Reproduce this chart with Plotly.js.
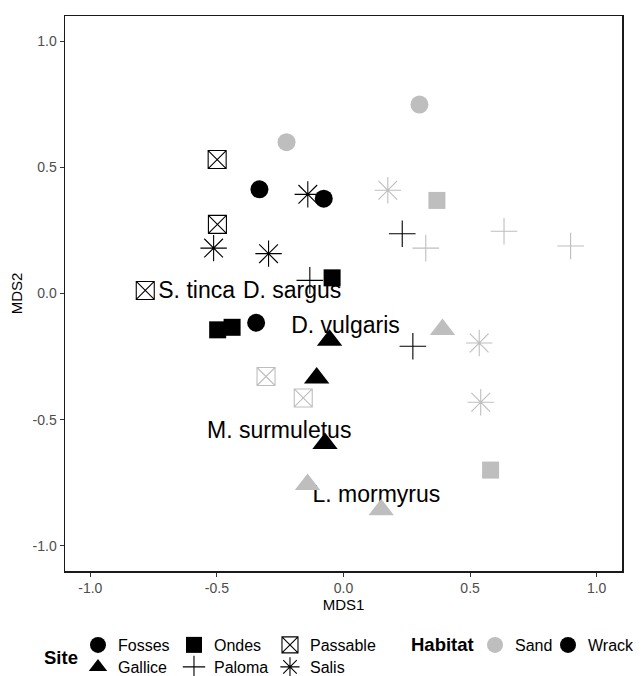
<!DOCTYPE html>
<html>
<head>
<meta charset="utf-8">
<script src="https://cdn.plot.ly/plotly-3.0.1.min.js"></script>
<style>html,body{margin:0;padding:0;background:#fff;}</style>
</head>
<body>
<div id="chart" style="width:642px;height:676px;"></div>
<script>
// ---- data ----
const site = [
  "Fosses","Fosses","Fosses","Fosses","Fosses",
  "Ondes","Ondes","Ondes","Ondes","Ondes",
  "Passable","Passable","Passable","Passable","Passable",
  "Gallice","Gallice","Gallice","Gallice","Gallice","Gallice",
  "Paloma","Paloma","Paloma","Paloma","Paloma","Paloma",
  "Salis","Salis","Salis","Salis","Salis","Salis"
];
const habitat = [
  "Sand","Sand","Wrack","Wrack","Wrack",
  "Wrack","Wrack","Wrack","Sand","Sand",
  "Wrack","Wrack","Wrack","Sand","Sand",
  "Wrack","Wrack","Wrack","Sand","Sand","Sand",
  "Wrack","Wrack","Wrack","Sand","Sand","Sand",
  "Wrack","Wrack","Wrack","Sand","Sand","Sand"
];
const mds1 = [
  0.300,-0.225,-0.332,-0.078,-0.345,
  -0.045,-0.497,-0.440,0.369,0.581,
  -0.499,-0.498,-0.783,-0.306,-0.159,
  -0.055,-0.106,-0.073,0.391,-0.142,0.149,
  -0.133,0.232,0.274,0.325,0.634,0.897,
  -0.141,-0.513,-0.296,0.175,0.536,0.542
];
const mds2 = [
  0.749,0.600,0.413,0.376,-0.116,
  0.062,-0.144,-0.134,0.369,-0.700,
  0.531,0.274,0.012,-0.329,-0.414,
  -0.185,-0.335,-0.595,-0.143,-0.757,-0.857,
  0.052,0.237,-0.209,0.180,0.247,0.188,
  0.393,0.180,0.158,0.409,-0.196,-0.431
];
const speciesNames = ["S. tinca","D. sargus","D. vulgaris","M. surmuletus","L. mormyrus"];
const speciesX = [-0.580,-0.203,0.008,-0.254,0.130];
const speciesY = [0.004,0.004,-0.135,-0.550,-0.802];

const siteLevels = ["Fosses","Ondes","Passable","Gallice","Paloma","Salis"];
const habitatLevels = ["Sand","Wrack"];
const tickVals = [-1.0,-0.5,0.0,0.5,1.0];
const tickText = ["-1.0","-0.5","0.0","0.5","1.0"];

// ---- styles ----
const FONT = "Liberation Sans, Arial, sans-serif";
const siteSymbol = {Fosses:"circle", Ondes:"square", Passable:"square-x-open",
  Gallice:"triangle-up", Paloma:"cross-thin-open", Salis:"asterisk-open"};
const siteSize = {Fosses:18, Ondes:17, Passable:18, Gallice:22, Paloma:19, Salis:22};
const habColor = {Sand:"#BEBEBE", Wrack:"#000000"};

const traces = [];
// species labels (drawn under points)
traces.push({
  type:"scatter", mode:"text", x:speciesX, y:speciesY, text:speciesNames,
  textposition:"middle center", textfont:{family:FONT, size:23, color:"#000"},
  showlegend:false, hoverinfo:"skip"
});
// points
habitatLevels.forEach(h => {
  siteLevels.forEach(s => {
    const xs = [], ys = [];
    for (let i = 0; i < site.length; i++) {
      if (site[i] === s && habitat[i] === h) { xs.push(mds1[i]); ys.push(mds2[i]); }
    }
    if (!xs.length) return;
    traces.push({
      type:"scatter", mode:"markers", x:xs, y:ys, showlegend:false, hoverinfo:"skip",
      marker:{symbol:siteSymbol[s], size:siteSize[s], color:habColor[h],
        line:{width: siteSymbol[s].endsWith("open") ? 1.1 : 0, color:habColor[h]}}
    });
  });
});
// legend entries (no data)
siteLevels.forEach((s, k) => {
  traces.push({
    type:"scatter", mode:"markers", x:[null], y:[null], name:s,
    legend: k < 3 ? "legend" : "legend2",
    legendwidth: (k % 3 === 2) ? 80 : 51,
    marker:{symbol:siteSymbol[s], size:siteSize[s], color:"#000",
      line:{width: siteSymbol[s].endsWith("open") ? 1.1 : 0, color:"#000"}}
  });
});
habitatLevels.forEach((h, k) => {
  traces.push({
    type:"scatter", mode:"markers", x:[null], y:[null], name:h, legend:"legend3",
    legendwidth: k === 0 ? 28 : 70,
    marker:{symbol:"circle", size:18, color:habColor[h]}
  });
});

const axisCommon = {
  range:[-1.1,1.1], tickvals:tickVals, ticktext:tickText, ticks:"outside",
  ticklen:4, tickwidth:1, tickcolor:"#333333", showgrid:false, zeroline:false,
  showline:true, mirror:true, linecolor:"#1a1a1a", linewidth:1.5,
  tickfont:{family:FONT, size:14, color:"#4D4D4D"}, fixedrange:true
};

const legendCommon = {
  orientation:"h", xref:"paper", yref:"paper", xanchor:"left", yanchor:"middle",
  font:{family:FONT, size:16, color:"#000"}, bgcolor:"rgba(0,0,0,0)",
  borderwidth:0, entrywidthmode:"pixels", itemclick:false, itemdoubleclick:false
};

const layout = {
  width:642, height:676,
  margin:{l:65, r:20, t:16, b:105, autoexpand:false},
  paper_bgcolor:"#fff", plot_bgcolor:"#fff",
  hovermode:false,
  xaxis:Object.assign({}, axisCommon, {
    title:{text:"MDS1", font:{family:FONT, size:15, color:"#000"}, standoff:3}
  }),
  yaxis:Object.assign({}, axisCommon, {
    title:{text:"MDS2", font:{family:FONT, size:15, color:"#000"}, standoff:6}
  }),
  legend:Object.assign({}, legendCommon, {x:0.0233, y:-0.1333}),
  legend2:Object.assign({}, legendCommon, {x:0.0233, y:-0.173}),
  legend3:Object.assign({}, legendCommon, {x:0.7361, y:-0.1333}),
  annotations:[{
    text:"<b>Site</b>", xref:"paper", yref:"paper", x:-0.008, y:-0.155,
    xanchor:"center", yanchor:"middle", showarrow:false,
    font:{family:FONT, size:18.5, color:"#000"}
  },{
    text:"<b>Habitat</b>", xref:"paper", yref:"paper", x:0.677, y:-0.1333,
    xanchor:"center", yanchor:"middle", showarrow:false,
    font:{family:FONT, size:18.5, color:"#000"}
  }]
};

Plotly.newPlot("chart", traces, layout, {displayModeBar:false, staticPlot:true});
</script>
</body>
</html>
